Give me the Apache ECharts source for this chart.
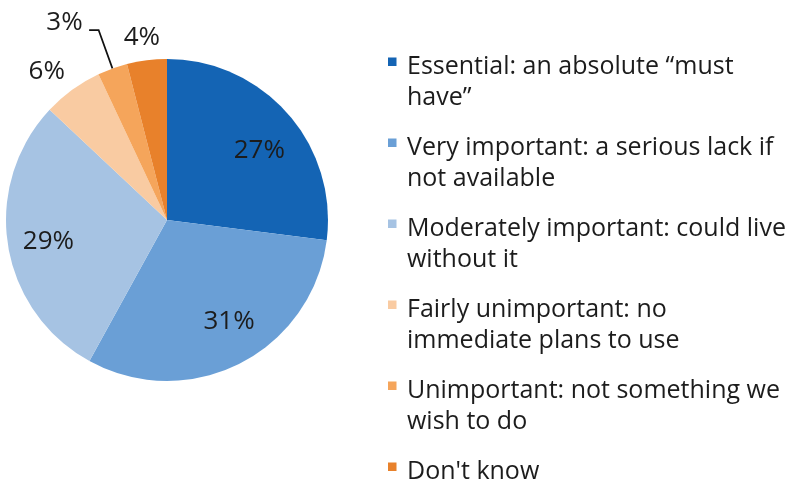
<!DOCTYPE html>
<html>
<head>
<meta charset="utf-8">
<script src="https://cdn.jsdelivr.net/npm/echarts@6/dist/echarts.min.js"></script>
<style>
  html, body { margin: 0; padding: 0; background: #fff; }
  #chart { width: 806px; height: 489px; }
</style>
</head>
<body>
<div id="chart"></div>
<script>
// Survey answers, clockwise from twelve o'clock
const categories = [
  'Essential: an absolute \u201cmust\nhave\u201d',
  'Very important: a serious lack if\nnot available',
  'Moderately important: could live\nwithout it',
  'Fairly unimportant: no\nimmediate plans to use',
  'Unimportant: not something we\nwish to do',
  "Don't know"
];
const shares = [27, 31, 29, 6, 3, 4];
const colors = ['#1464b4', '#6a9fd6', '#a6c3e3', '#f9cba2', '#f5a55b', '#e8812b'];

const FONT = 'Open Sans';
const CENTER = [167, 220];
const R = 161;

// Small slices get their value written outside the pie
const outsideLabels = {
  3: { length: 22.5, length2: 0, dist: -5.8, line: false },
  4: { length: 40.9, length2: 9.5, dist: 6.4, line: true },
  5: { length: 22.5, length2: 0, dist: -16, line: false }
};
// Nudges for the values written inside the large slices
const insideNudge = { 0: [3, 9], 1: [8, -4], 2: [-1, 3] };

const pieData = categories.map((name, i) => {
  const item = { name: name, value: shares[i], itemStyle: { color: colors[i] } };
  const o = outsideLabels[i];
  if (o) {
    item.label = {
      show: true, position: 'outside',
      distanceToLabelLine: o.dist,
      // the leader-line value sits on top of its line
      lineHeight: o.line ? 15 : 30
    };
    item.labelLine = {
      show: o.line, length: o.length, length2: o.length2,
      lineStyle: { color: '#111', width: 1.8 }
    };
  }
  return item;
});

// Transparent ring carrying the large-slice values further out from the centre
const ringData = categories.map((name, i) => ({
  name: name,
  value: shares[i],
  itemStyle: { color: 'rgba(0,0,0,0)' },
  label: { show: !outsideLabels[i] }
}));

const labelText = {
  fontFamily: FONT, fontSize: 26, color: '#1c1c1c'
};

const chart = echarts.init(document.getElementById('chart'), null, { renderer: 'canvas' });
chart.setOption({
  backgroundColor: '#fff',
  animation: false,
  legend: {
    orient: 'vertical',
    left: 388,
    top: 51,
    height: 470,
    padding: 0,
    itemWidth: 14,
    itemHeight: 62,
    itemGap: 19,
    selectedMode: false,
    icon: 'path://M0,0h0.01v0.01h-0.01z M13.99,61.99h0.01v0.01h-0.01z M0,6.5h8.5v8.5h-8.5z',
    itemStyle: { borderWidth: 0 },
    textStyle: { fontFamily: FONT, fontSize: 25, color: '#1c1c1c', lineHeight: 31 },
    formatter: name => name.indexOf('\n') >= 0 ? name : name + '\n ',
    data: categories
  },
  series: [
    {
      type: 'pie',
      center: CENTER,
      radius: R,
      startAngle: 90,
      clockwise: true,
      avoidLabelOverlap: false,
      silent: true,
      itemStyle: { borderWidth: 0 },
      label: Object.assign({
        show: false,
        formatter: p => outsideLabels[p.dataIndex] && outsideLabels[p.dataIndex].line
          ? p.value + '%\n ' : p.value + '%'
      }, labelText),
      labelLine: { show: false, smooth: false },
      data: pieData
    },
    {
      type: 'pie',
      center: CENTER,
      radius: [71, R],
      startAngle: 90,
      clockwise: true,
      avoidLabelOverlap: false,
      silent: true,
      itemStyle: { borderWidth: 0 },
      label: Object.assign({ position: 'inside', formatter: p => p.value + '%' }, labelText),
      labelLine: { show: false },
      labelLayout: p => {
        const n = insideNudge[p.dataIndex];
        return n ? { dx: n[0], dy: n[1] } : {};
      },
      data: ringData
    }
  ]
});
</script>
</body>
</html>
